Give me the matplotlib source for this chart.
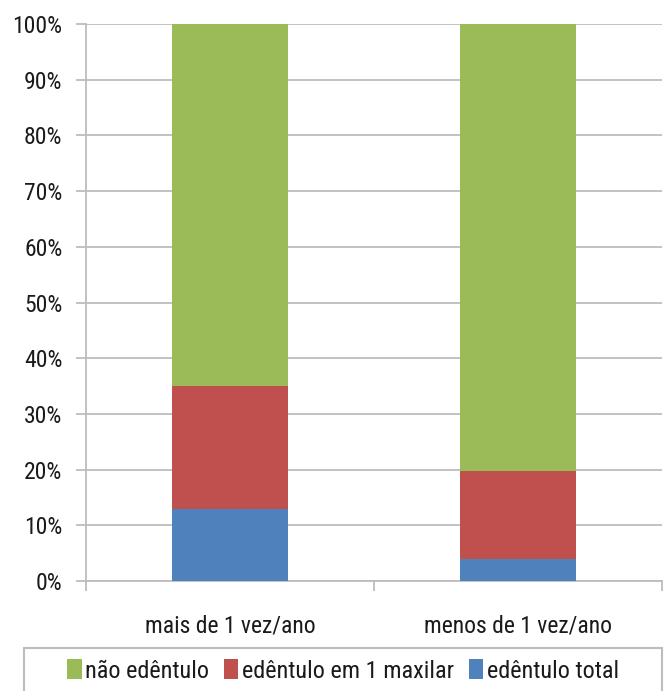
import numpy as np
import matplotlib.pyplot as plt
from matplotlib.patches import Rectangle
from matplotlib.ticker import PercentFormatter

plt.rcParams['font.family'] = ['Liberation Sans Narrow', 'Roboto Condensed', 'DejaVu Sans']
plt.rcParams['font.stretch'] = 'condensed'

# data (percent of group)
categories = ["mais de 1 vez/ano", "menos de 1 vez/ano"]
edentulo_total = [13.0, 3.9]
edentulo_1_maxilar = [22.0, 15.8]
nao_edentulo = [65.0, 80.3]

W, H = 669, 691
fig = plt.figure(figsize=(W / 100, H / 100), dpi=100)
ax = fig.add_axes([86 / W, 1 - 581 / H, (662 - 86) / W, (581 - 24) / H])

x = np.arange(len(categories))
w = 0.40
b1 = np.array(edentulo_total)
b2 = b1 + np.array(edentulo_1_maxilar)
ax.bar(x, edentulo_total, w, color="#4f81bd", label="edêntulo total", zorder=3)
ax.bar(x, edentulo_1_maxilar, w, bottom=b1, color="#c0504d", label="edêntulo em 1 maxilar", zorder=3)
ax.bar(x, nao_edentulo, w, bottom=b2, color="#9bbb59", label="não edêntulo", zorder=3)

ax.set_xlim(-0.5, 1.5)
ax.set_ylim(0, 100)
ax.set_yticks(np.arange(0, 101, 10))
ax.yaxis.set_major_formatter(PercentFormatter(decimals=0))
ax.yaxis.grid(True, color="#bdbdbd", linewidth=1.3, zorder=0)
ax.set_xticks([-0.5, 0.5, 1.5], minor=False)
ax.set_xticklabels([])
ax.set_xticks(x, minor=True)
ax.set_xticklabels(categories, minor=True)
ax.tick_params(axis="x", which="minor", length=0, pad=24, labelsize=17, colors="#1a1a1a")
ax.tick_params(axis="x", which="major", length=7, color="#bdbdbd", width=1.3)
ax.tick_params(axis="y", length=7, color="#bdbdbd", width=1.3, labelsize=17, colors="#1a1a1a", pad=10)
for s in ["top", "right"]:
    ax.spines[s].set_visible(False)
for s in ["left", "bottom"]:
    ax.spines[s].set_color("#bdbdbd")
    ax.spines[s].set_linewidth(1.3)

# legend box runs off the bottom edge
fig.patches.append(Rectangle((24 / W, -0.02), (662 - 24) / W, 0.02 + 1 - 648 / H,
                             transform=fig.transFigure, fill=False,
                             edgecolor="#bdbdbd", linewidth=1.5))
h, l = ax.get_legend_handles_labels()
leg = fig.legend(h[::-1], l[::-1], loc="center", bbox_to_anchor=(343 / W, 1 - 671 / H), ncol=3,
                 fontsize=17.5, frameon=False,
                 handlelength=0.6, handleheight=0.9, handletextpad=0.15, columnspacing=0.6,
                 borderpad=0.0)
for t in leg.get_texts():
    t.set_color("#1a1a1a")

fig.savefig("out.png", dpi=100)
